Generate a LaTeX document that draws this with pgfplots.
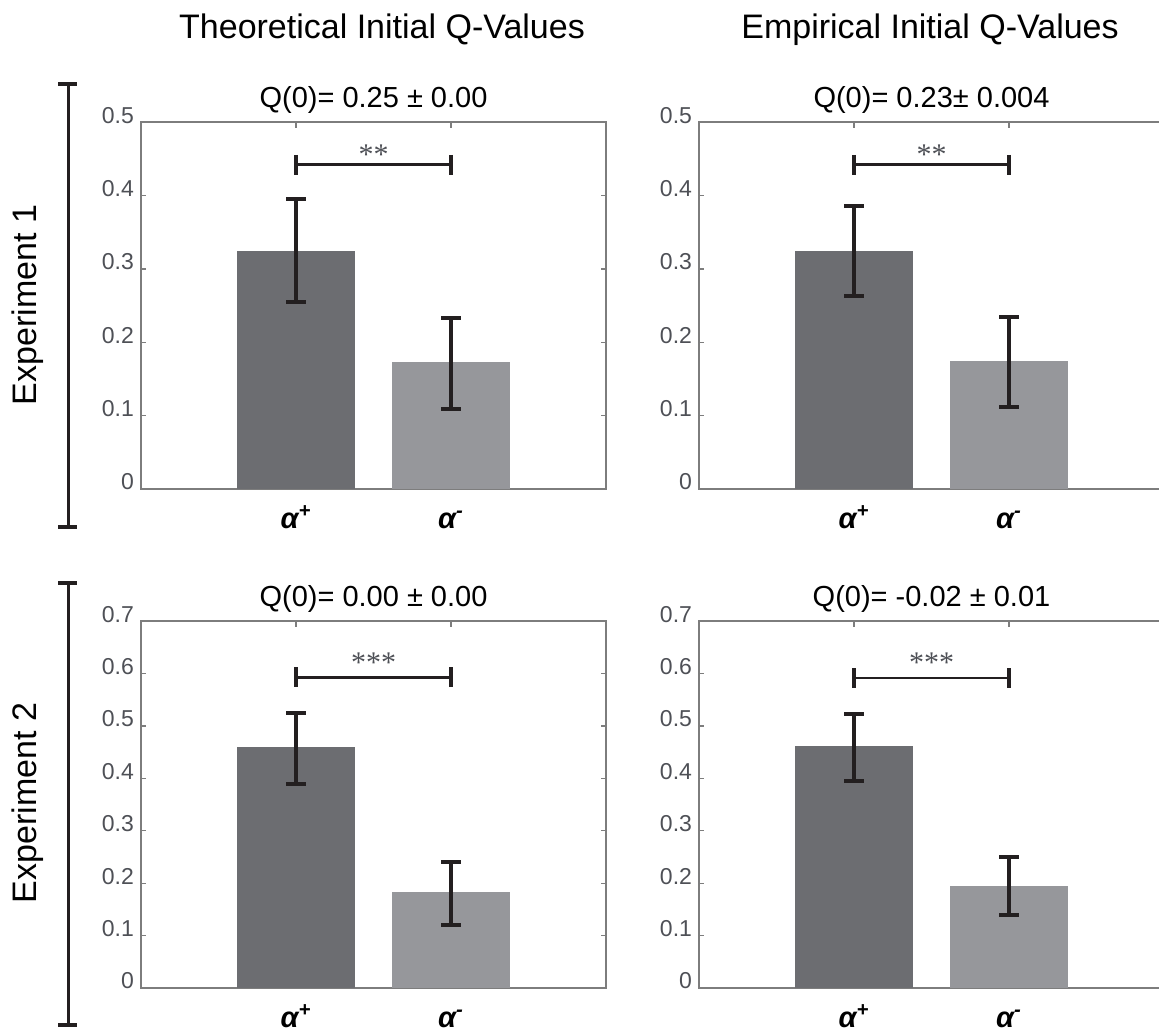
\documentclass[border=0pt]{standalone}
\usepackage{fontspec}
\setmainfont{Liberation Sans}
\newfontfamily\starfont{Liberation Serif}
\usepackage{pgfplots}
\pgfplotsset{compat=1.18}
\definecolor{darkbar}{RGB}{108,109,113}
\definecolor{lightbar}{RGB}{150,151,155}
\definecolor{axgray}{RGB}{125,125,125}
\definecolor{ticklab}{RGB}{78,80,86}
\definecolor{errc}{RGB}{35,31,32}

\pgfplotsset{
  qpanel/.style={
    scale only axis, width=232.5pt, height=183.4pt, anchor=south west,
    xmin=0, xmax=3, ymin=0,
    xtick={1,2},
    xticklabels={{\bfseries\itshape α\textsuperscript{+}}, {\bfseries\itshape α\textsuperscript{-}}},
    xticklabel style={font=\fontsize{14.5}{14.5}\selectfont, text=black, anchor=base, text height=0pt, text depth=0pt, yshift=-19.5pt},
    yticklabel style={font=\fontsize{11.5}{11.5}\selectfont, text=ticklab, yshift=3.5pt},
    /pgf/number format/assume math mode=true,
    tick align=inside, major tick length=2.7pt,
    axis line style={axgray, line width=0.8pt},
    tick style={axgray, line width=0.6pt},
    title style={font=\fontsize{14.5}{14.5}\selectfont, at={(0.5,1)}, anchor=base, yshift=1.5pt},
    bar width=0.76, bar shift=0pt,
  },
  qbar/.style={ybar, draw=none, fill=#1,
    error bars/.cd, y dir=both, y explicit,
    error bar style={errc, line width=1.75pt},
    error mark options={errc, rotate=90, mark size=4.8pt, line width=2pt}},
  qsig/.style={errc, line width=1.4pt, mark=|, mark size=5pt, mark options={line width=1.8pt}},
}
\tikzset{qstar/.style={font=\starfont\fontsize{15}{15}\selectfont, text=ticklab, yshift=-2pt}}

\begin{document}
\begin{tikzpicture}
% ---------- Experiment 1, theoretical
\begin{axis}[qpanel, at={(70.5pt,272.5pt)}, ymax=0.5, ytick={0,0.1,0.2,0.3,0.4,0.5},
  title={Q(0)= 0.25 ± 0.00}]
\addplot[qbar=darkbar] coordinates {(1,0.3245) += (0,0.071) -= (0,0.069)};
\addplot[qbar=lightbar] coordinates {(2,0.1727) += (0,0.061) -= (0,0.064)};
\addplot[qsig] coordinates {(1,0.4418) (2,0.4418)};
\node[qstar] at (axis cs:1.5,0.4609) {**};
\end{axis}
% ---------- Experiment 1, empirical
\begin{axis}[qpanel, at={(349.5pt,272.5pt)}, ymax=0.5, ytick={0,0.1,0.2,0.3,0.4,0.5},
  title={Q(0)= 0.23± 0.004}]
\addplot[qbar=darkbar] coordinates {(1,0.3247) += (0,0.0613) -= (0,0.0613)};
\addplot[qbar=lightbar] coordinates {(2,0.1748) += (0,0.0599) -= (0,0.0631)};
\addplot[qsig] coordinates {(1,0.4419) (2,0.4419)};
\node[qstar] at (axis cs:1.5,0.4609) {**};
\end{axis}
% ---------- Experiment 2, theoretical
\begin{axis}[qpanel, at={(70.5pt,23pt)}, ymax=0.7, ytick={0,0.1,0.2,0.3,0.4,0.5,0.6,0.7},
  title={Q(0)= 0.00 ± 0.00}]
\addplot[qbar=darkbar] coordinates {(1,0.4603) += (0,0.0644) -= (0,0.0714)};
\addplot[qbar=lightbar] coordinates {(2,0.1823) += (0,0.0580) -= (0,0.0624)};
\addplot[qsig] coordinates {(1,0.5929) (2,0.5929)};
\node[qstar] at (axis cs:1.5,0.6286) {***};
\end{axis}
% ---------- Experiment 2, empirical
\begin{axis}[qpanel, at={(349.5pt,23pt)}, ymax=0.7, ytick={0,0.1,0.2,0.3,0.4,0.5,0.6,0.7},
  title={Q(0)= -0.02 ± 0.01}]
\addplot[qbar=darkbar] coordinates {(1,0.4620) += (0,0.0604) -= (0,0.0666)};
\addplot[qbar=lightbar] coordinates {(2,0.1949) += (0,0.0558) -= (0,0.0565)};
\addplot[qsig] coordinates {(1,0.5915) (2,0.5915)};
\node[qstar] at (axis cs:1.5,0.6286) {***};
\end{axis}
% ---------- column headers
\node[font=\fontsize{17}{17}\selectfont, anchor=base] at (191pt,497.5pt) {Theoretical Initial Q-Values};
\node[font=\fontsize{17}{17}\selectfont, anchor=base] at (465pt,497.5pt) {Empirical Initial Q-Values};
% ---------- row labels and brackets
\node[font=\fontsize{17}{17}\selectfont, rotate=90] at (14pt,364.5pt) {Experiment 1};
\node[font=\fontsize{17}{17}\selectfont, rotate=90] at (14pt,115.5pt) {Experiment 2};
\draw[errc, line width=1.5pt] (34pt,475pt) -- (34pt,253.5pt);
\draw[errc, line width=2pt] (29pt,475pt) -- (38.5pt,475pt);
\draw[errc, line width=2pt] (29pt,253.5pt) -- (38.5pt,253.5pt);
\draw[errc, line width=1.5pt] (34pt,225.5pt) -- (34pt,4.5pt);
\draw[errc, line width=2pt] (29pt,225.5pt) -- (38.5pt,225.5pt);
\draw[errc, line width=2pt] (29pt,4.5pt) -- (38.5pt,4.5pt);
\pgfresetboundingbox
\useasboundingbox (0pt,0pt) rectangle (579.5pt,517pt);
\end{tikzpicture}
\end{document}
